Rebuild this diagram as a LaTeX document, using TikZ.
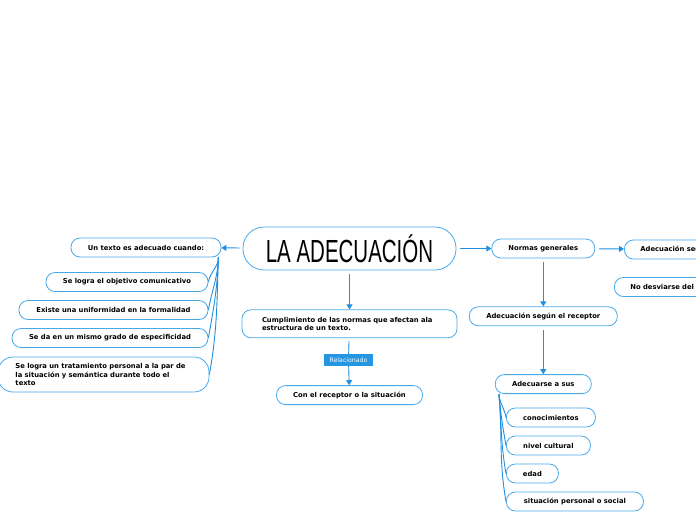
\documentclass[tikz,border=0pt]{standalone}
\usepackage{fontspec}
\setmainfont{DejaVu Sans}
\newfontfamily\titlefont[FakeStretch=0.64]{Liberation Sans}
\usetikzlibrary{positioning}
\usetikzlibrary{arrows.meta}
\definecolor{boxblue}{RGB}{72,168,234}
\definecolor{lineblue}{RGB}{32,143,224}
\definecolor{tagblue}{RGB}{36,150,226}

\begin{document}
\begin{tikzpicture}[x=1pt, y=-1pt, node distance=39pt]

    \tikzset{
        box/.style={
            draw=boxblue,
            line width=0.8pt,
            rounded corners=9pt,
            minimum height=19pt,
            inner xsep=8pt,
            font=\bfseries\fontsize{6.8}{8.2}\selectfont
        },
        titlebox/.style={
            draw=boxblue,
            line width=0.8pt,
            rounded corners=21pt,
            minimum width=213pt,
            minimum height=43pt,
            font=\titlefont\fontsize{32}{36}\selectfont
        },
        tag/.style={
            fill=tagblue,
            text=white,
            minimum width=49pt,
            minimum height=12pt,
            inner sep=1pt,
            font=\fontsize{6.2}{7}\selectfont
        },
        link/.style={
            draw=lineblue,
            line width=0.9pt
        },
        linkarrow/.style={
            link,
            -{Triangle[length=5pt,width=6pt]}
        }
    }

    \useasboundingbox (0,0) rectangle (696,520);
    \clip (0,0) rectangle (696,520);

    % centre
    \node[titlebox] (title) at (349.5,248.5) {LA ADECUACIÓN};

    % left branch
    \node[box, minimum width=150pt] (texto) at (146,247.5) {Un texto es adecuado cuando:};
    \node[box, minimum width=162pt] (objetivo) at (127,282) {Se logra el objetivo comunicativo};
    \node[box, minimum width=189pt] (uniforme) at (113.5,310) {Existe una uniformidad en la formalidad};
    \node[box, minimum width=196pt] (grado) at (110,338) {Se da en un mismo grado de especificidad};
    \node[box, rounded corners=15pt, minimum height=35pt, text width=176pt, inner xsep=17.5pt, align=left] (trato) at (103.5,374.5)
        {Se logra un tratamiento personal a la par de\\la situación y semántica durante todo el\\texto};

    \draw[linkarrow, shorten <=3pt] (title) -- (texto);
    \coordinate (tfork) at ([xshift=-3pt]texto.south east);
    \foreach \kid in {objetivo, uniforme, grado, trato}
        \draw[link] (tfork) to[out=-92, in=80] (\kid.east);

    % middle branch
    \node[box, minimum height=28pt, text width=175pt, inner xsep=20pt, align=left, below=of title] (cumple)
        {Cumplimiento de las normas que afectan ala\\estructura de un texto.};
    \node[box, minimum width=146pt, below=47pt of cumple] (situacion) {Con el receptor o la situación};
    \node[tag] (rel) at (348.5,360) {Relacionado};

    \draw[linkarrow, shorten <=4pt] (title) -- (cumple);
    \draw[link, shorten <=3pt] (cumple) -- (rel);
    \draw[linkarrow] (rel) -- (situacion);

    % right branch
    \node[box, minimum width=103pt, right=35pt of title] (normas) {Normas generales};
    \node[box, text width=180pt, inner xsep=16pt, align=left, anchor=west] (segun) at (624,249.5)
        {Adecuación según la situación};
    \node[box, text width=180pt, inner xsep=16pt, align=left, anchor=west] (desvio) at (614,287)
        {No desviarse del tema};
    \node[box, minimum width=148pt, below=48pt of normas] (receptor) {Adecuación según el receptor};
    \node[box, minimum width=96pt, below=48pt of receptor] (adecuarse) {Adecuarse a sus};

    \draw[linkarrow, shorten <=4pt] (title) -- (normas);
    \draw[linkarrow, shorten <=4pt] (normas) -- (segun);
    \coordinate (sdrop) at (699,0);
    \draw[linkarrow] (segun.south -| sdrop) -- (desvio.north -| sdrop);
    \draw[linkarrow, shorten <=4pt] (normas) -- (receptor);
    \draw[linkarrow, shorten <=4pt] (receptor) -- (adecuarse);

    \node[box, minimum width=89pt, anchor=west] (conoc) at (506,417.5) {conocimientos};
    \node[box, minimum width=84pt, anchor=west] (nivel) at (506,445.5) {nivel cultural};
    \node[box, minimum width=52pt, anchor=west] (edad) at (506,473.5) {edad};
    \node[box, minimum width=137pt, anchor=west] (social) at (506,501.5) {situación personal o social};

    \coordinate (afork) at ([xshift=4pt]adecuarse.south west);
    \foreach \kid in {conoc, nivel, edad, social}
        \draw[link] (afork) to[out=-85, in=100] (\kid.west);

\end{tikzpicture}
\end{document}
